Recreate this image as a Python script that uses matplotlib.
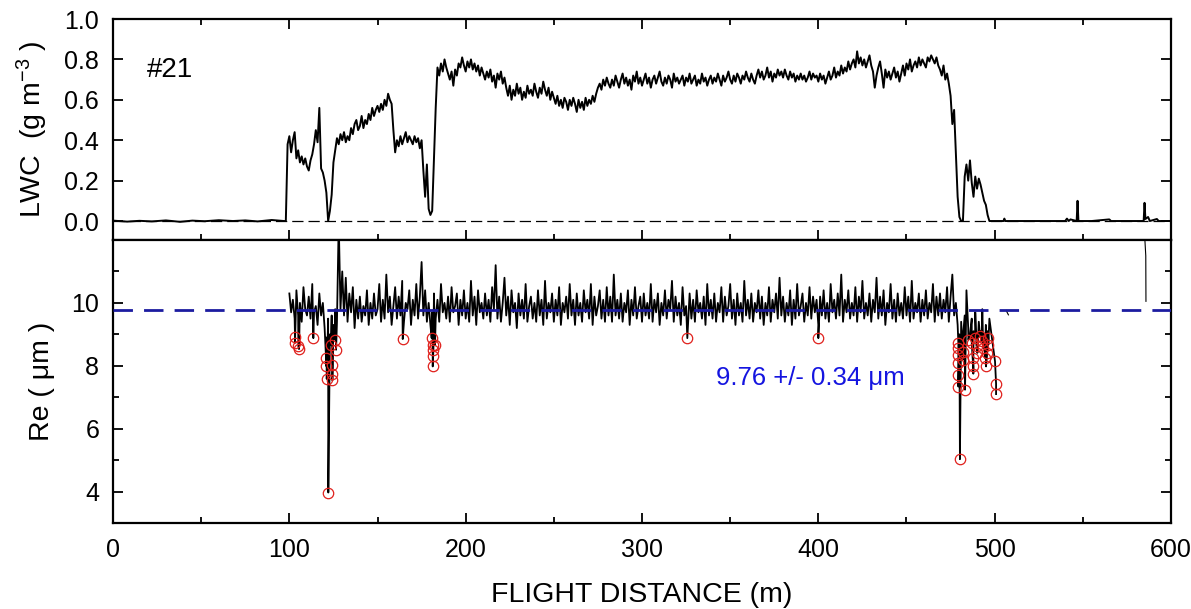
import numpy as np
import matplotlib
matplotlib.use("Agg")
import matplotlib.pyplot as plt
from matplotlib.ticker import MultipleLocator, FixedLocator, FormatStrFormatter

plt.rcParams["font.family"] = ["Liberation Sans", "DejaVu Sans"]
plt.rcParams["mathtext.default"] = "regular"

# ---- LWC (g m-3) ----
# clear air before the cloud
lwc_before_x = [0, 8, 15, 22, 30, 38, 45, 52, 60, 68, 75, 82, 90, 97]
lwc_before = [0.002, -0.003, 0.001, -0.002, 0.003, -0.004, 0.002,
              -0.001, 0.004, 0.0, 0.003, -0.002, 0.005, 0.0]

# in cloud, one reading per metre starting at 98 m
lwc_cloud_start = 98
lwc_cloud = [
    0.00, 0.38,
    0.42, 0.34, 0.40, 0.44, 0.31, 0.35, 0.29, 0.32, 0.28, 0.31,  # 100
    0.27, 0.25, 0.30, 0.33, 0.38, 0.45, 0.39, 0.56, 0.26, 0.24,  # 110
    0.20, 0.14, 0.00, 0.05, 0.13, 0.29, 0.35, 0.41, 0.38, 0.43,  # 120
    0.40, 0.44, 0.39, 0.42, 0.40, 0.46, 0.43, 0.48, 0.50, 0.45,  # 130
    0.47, 0.52, 0.46, 0.50, 0.48, 0.53, 0.50, 0.56, 0.52, 0.55,  # 140
    0.57, 0.54, 0.58, 0.55, 0.60, 0.57, 0.63, 0.60, 0.58, 0.45,  # 150
    0.34, 0.40, 0.37, 0.42, 0.38, 0.41, 0.44, 0.39, 0.42, 0.40,  # 160
    0.38, 0.42, 0.39, 0.41, 0.36, 0.40, 0.25, 0.12, 0.28, 0.06,  # 170
    0.03, 0.05, 0.30, 0.56, 0.76, 0.72, 0.78, 0.74, 0.80, 0.76,  # 180
    0.73, 0.70, 0.74, 0.67, 0.75, 0.72, 0.78, 0.76, 0.81, 0.77,  # 190
    0.74, 0.79, 0.76, 0.80, 0.75, 0.78, 0.74, 0.77, 0.72, 0.76,  # 200
    0.73, 0.70, 0.74, 0.71, 0.75, 0.69, 0.72, 0.66, 0.73, 0.70,  # 210
    0.74, 0.68, 0.71, 0.66, 0.62, 0.67, 0.60, 0.65, 0.62, 0.68,  # 220
    0.63, 0.66, 0.60, 0.64, 0.61, 0.67, 0.63, 0.65, 0.62, 0.68,  # 230
    0.64, 0.61, 0.66, 0.63, 0.69, 0.65, 0.62, 0.66, 0.60, 0.64,  # 240
    0.61, 0.58, 0.62, 0.57, 0.60, 0.56, 0.61, 0.59, 0.55, 0.60,  # 250
    0.57, 0.61, 0.58, 0.54, 0.60, 0.56, 0.59, 0.55, 0.61, 0.57,  # 260
    0.60, 0.58, 0.62, 0.59, 0.63, 0.66, 0.68, 0.65, 0.70, 0.67,  # 270
    0.71, 0.68, 0.66, 0.70, 0.67, 0.72, 0.69, 0.66, 0.70, 0.73,  # 280
    0.68, 0.71, 0.67, 0.70, 0.65, 0.72, 0.69, 0.74, 0.68, 0.71,  # 290
    0.67, 0.70, 0.73, 0.68, 0.71, 0.66, 0.70, 0.72, 0.68, 0.71,  # 300
    0.74, 0.69, 0.67, 0.71, 0.68, 0.72, 0.70, 0.66, 0.73, 0.69,  # 310
    0.71, 0.68, 0.70, 0.72, 0.67, 0.71, 0.69, 0.73, 0.68, 0.70,  # 320
    0.72, 0.67, 0.70, 0.68, 0.73, 0.69, 0.71, 0.67, 0.70, 0.72,  # 330
    0.68, 0.71, 0.69, 0.73, 0.70, 0.67, 0.72, 0.69, 0.71, 0.74,  # 340
    0.70, 0.68, 0.72, 0.69, 0.73, 0.71, 0.68, 0.72, 0.70, 0.74,  # 350
    0.71, 0.69, 0.73, 0.70, 0.68, 0.72, 0.75, 0.71, 0.74, 0.70,  # 360
    0.72, 0.76, 0.71, 0.74, 0.69, 0.73, 0.71, 0.75, 0.72, 0.74,  # 370
    0.71, 0.75, 0.72, 0.70, 0.74, 0.71, 0.73, 0.69, 0.72, 0.70,  # 380
    0.73, 0.70, 0.72, 0.69, 0.71, 0.74, 0.70, 0.73, 0.71, 0.72,  # 390
    0.69, 0.73, 0.70, 0.72, 0.68, 0.71, 0.74, 0.70, 0.72, 0.76,  # 400
    0.71, 0.74, 0.72, 0.77, 0.73, 0.76, 0.74, 0.79, 0.75, 0.78,  # 410
    0.80, 0.76, 0.84, 0.78, 0.81, 0.77, 0.80, 0.76, 0.79, 0.82,  # 420
    0.77, 0.74, 0.66, 0.72, 0.76, 0.79, 0.73, 0.66, 0.75, 0.71,  # 430
    0.74, 0.70, 0.73, 0.76, 0.71, 0.74, 0.69, 0.73, 0.77, 0.72,  # 440
    0.78, 0.75, 0.80, 0.74, 0.77, 0.79, 0.76, 0.81, 0.77, 0.80,  # 450
    0.78, 0.76, 0.81, 0.79, 0.82, 0.80, 0.78, 0.81, 0.77, 0.75,  # 460
    0.72, 0.77, 0.70, 0.73, 0.68, 0.62, 0.48, 0.55, 0.33, 0.12,  # 470
    0.02, 0.00, 0.00, 0.22, 0.28, 0.20, 0.30, 0.19, 0.12, 0.22,  # 480
    0.16, 0.21, 0.18, 0.14, 0.10, 0.08, 0.03, 0.00, 0.00, 0.00,  # 490
    0.00,                                                        # 500
]

# clear air after the cloud, with a few small blips
lwc_after_x = [503, 505, 505.5, 506, 508, 540, 541, 542, 543, 546.5, 547,
               547.5, 555, 565, 566, 575, 584.5, 585, 585.5, 587, 588, 592,
               593, 600]
lwc_after = [0.0, 0.0, 0.012, 0.0, 0.0, 0.0, 0.012, 0.0, 0.008, 0.0, 0.10,
             0.0, 0.0, 0.008, 0.0, 0.0, 0.0, 0.09, 0.01, 0.02, 0.0, 0.01,
             0.0, 0.0]

# ---- Re (um) ----
re_cloud_start = 100
re_cloud = [
    10.3, 9.7, 10.1, 9.5, 10.4, 9.6, 10.0, 9.4, 10.5, 9.8,   # 100
    9.6, 10.2, 9.5, 10.6, 9.7, 9.9, 9.3, 10.3, 9.6, 10.0,    # 110
    9.2, 8.9, 9.5, 9.0, 9.6, 9.3, 9.8, 9.4, 12.6, 9.8,       # 120
    11.0, 9.6, 10.8, 9.4, 10.3, 9.7, 10.5, 9.2, 10.1, 9.5,   # 130
    10.2, 9.4, 9.9, 9.6, 10.4, 9.3, 10.0, 9.5, 10.3, 9.6,    # 140
    9.8, 10.6, 9.4, 10.1, 9.5, 10.9, 9.7, 10.2, 9.3, 9.9,    # 150
    10.5, 9.5, 10.2, 9.6, 10.7, 9.4, 10.0, 9.8, 10.4, 9.3,   # 160
    10.1, 9.6, 10.6, 9.5, 10.2, 11.3, 9.6, 10.4, 9.4, 10.0,  # 170
    9.3, 9.7, 10.3, 9.5, 10.1, 9.4, 10.6, 9.7, 10.0, 9.5,    # 180
    10.2, 9.4, 10.5, 9.7, 9.9, 10.3, 9.3, 10.1, 9.6, 10.4,   # 190
    9.5, 10.0, 9.4, 10.7, 9.6, 10.2, 9.3, 10.4, 9.7, 10.0,   # 200
    9.5, 10.3, 9.6, 10.1, 9.4, 10.5, 9.8, 11.2, 9.5, 10.2,   # 210
    9.4, 10.0, 10.8, 9.6, 10.2, 9.3, 10.4, 9.7, 10.0, 9.2,   # 220
    10.3, 9.6, 10.1, 9.5, 10.6, 9.4, 9.9, 10.2, 9.5, 10.0,   # 230
    9.4, 10.4, 9.6, 10.1, 9.3, 10.7, 9.5, 10.0, 9.7, 10.3,   # 240
    9.4, 10.1, 9.6, 10.5, 9.3, 10.0, 9.7, 10.2, 9.5, 10.6,   # 250
    9.6, 10.1, 9.3, 10.3, 9.6, 10.0, 9.4, 10.4, 9.7, 10.1,   # 260
    9.5, 10.6, 9.3, 10.2, 9.6, 9.9, 10.4, 9.5, 10.1, 9.4,    # 270
    10.5, 9.6, 10.2, 9.4, 10.9, 9.6, 10.1, 9.5, 10.3, 9.4,   # 280
    10.0, 9.7, 10.4, 9.3, 10.1, 9.6, 10.5, 9.5, 9.9, 10.2,   # 290
    9.4, 10.3, 9.6, 10.0, 9.5, 10.6, 9.4, 10.1, 9.7, 10.3,   # 300
    9.3, 10.0, 9.6, 10.4, 9.5, 10.1, 9.8, 10.7, 9.4, 10.2,   # 310
    9.6, 10.0, 9.3, 10.5, 9.6, 9.9, 9.2, 10.3, 9.5, 10.1,    # 320
    9.4, 10.4, 9.7, 10.0, 9.5, 10.2, 9.3, 10.6, 9.6, 10.1,   # 330
    9.5, 10.3, 9.4, 10.0, 9.7, 10.5, 9.4, 10.2, 9.6, 9.9,    # 340
    10.6, 9.5, 10.1, 9.3, 10.3, 9.6, 10.0, 9.4, 10.7, 9.6,   # 350
    10.1, 9.5, 10.3, 9.4, 10.0, 9.7, 10.4, 9.5, 10.2, 9.3,   # 360
    10.0, 9.6, 10.5, 9.4, 10.1, 9.7, 10.3, 9.5, 10.8, 9.6,   # 370
    10.2, 9.4, 10.0, 9.6, 10.4, 9.3, 10.1, 9.5, 10.6, 9.6,   # 380
    9.9, 10.3, 9.4, 10.0, 9.6, 10.5, 9.5, 10.2, 9.7, 10.1,   # 390
    9.3, 10.2, 9.6, 10.4, 9.5, 10.0, 9.4, 10.6, 9.7, 10.1,   # 400
    9.5, 10.3, 9.6, 10.9, 9.4, 10.1, 9.7, 10.4, 9.5, 10.0,   # 410
    9.6, 10.5, 9.4, 10.2, 9.7, 10.7, 9.5, 10.0, 9.6, 10.3,   # 420
    9.4, 10.1, 9.7, 10.8, 9.5, 10.2, 9.6, 10.4, 9.3, 10.0,   # 430
    9.7, 10.6, 9.5, 10.1, 9.4, 10.3, 9.6, 10.0, 9.5, 10.5,   # 440
    9.6, 10.2, 9.4, 10.7, 9.5, 10.0, 9.7, 10.3, 9.4, 10.1,   # 450
    9.6, 10.4, 9.5, 10.0, 9.7, 10.6, 9.4, 10.2, 9.6, 10.3,   # 460
    9.5, 10.1, 9.7, 10.5, 9.4, 10.2, 10.9, 9.6, 10.0, 9.3,   # 470
    9.0, 9.4, 8.9, 9.6, 10.4, 9.2, 9.0, 9.5, 9.1, 9.7,       # 480
    9.0, 9.4, 9.1, 9.8, 9.0, 9.3, 9.1, 9.5,                  # 490
]

# low readings, drawn as red circles
re_low_x = [103.2, 103.2, 105.1, 105.5, 113.6, 120.8, 120.8, 121.2, 122.1,
            123.4, 124.4, 124.4, 124.4, 125.9, 126.5, 164.3, 180.7, 181.3,
            181.7, 181.3, 181.3, 182.6, 325.7, 400.0, 479.4, 479.4, 479.4,
            479.4, 479.4, 479.4, 480.3, 481.9, 481.9, 483.2, 485.1, 487.0,
            487.5, 487.9, 487.9, 488.9, 489.8, 490.2, 491.7, 492.6, 493.5,
            494.5, 495.1, 496.4, 496.4, 495.8, 500.2, 500.8, 500.8]
re_low = [8.92, 8.73, 8.62, 8.53, 8.88, 8.25, 8.00, 7.58, 3.97,
          8.67, 8.03, 7.75, 7.54, 8.83, 8.51, 8.85, 8.88, 8.67,
          8.51, 8.30, 7.98, 8.67, 8.88, 8.88, 8.73, 8.57, 8.35,
          8.09, 7.72, 7.34, 5.03, 8.43, 8.19, 7.24, 8.83, 8.73,
          8.25, 7.98, 7.75, 8.88, 8.62, 8.41, 8.94, 8.78, 8.57,
          8.25, 7.98, 8.88, 8.67, 8.41, 8.14, 7.43, 7.10]

# stray readings outside the cloud
re_stray1_x, re_stray1 = [506.5, 507.8], [9.76, 9.62]
re_stray2_x, re_stray2 = [584.9, 585.7, 585.8], [12.3, 11.5, 10.05]

re_mean, re_std = 9.76, 0.34
flight_id = "#21"

# ---- build series ----
lwc_x = np.concatenate([lwc_before_x,
                        lwc_cloud_start + np.arange(len(lwc_cloud)),
                        lwc_after_x])
lwc_y = np.concatenate([lwc_before, lwc_cloud, lwc_after])

re_x = np.concatenate([re_cloud_start + np.arange(len(re_cloud)),
                       re_low_x])
re_y = np.concatenate([re_cloud, re_low])
order = np.argsort(re_x, kind="stable")
re_x, re_y = re_x[order], re_y[order]

fig = plt.figure(figsize=(11.91, 6.09), dpi=100)
ax1 = fig.add_axes([0.0949, 0.6059, 0.8883, 0.3629])
ax2 = fig.add_axes([0.0949, 0.1412, 0.8883, 0.4647])

tick_fs = 18
label_fs = 20.5

# top panel
ax1.axhline(0, color="black", lw=0.9, ls=(0, (9, 4)), zorder=1)
ax1.plot(lwc_x, lwc_y, color="black", lw=1.4, zorder=2)
ax1.set_xlim(0, 600)
ax1.set_ylim(-0.094, 1.0)
ax1.yaxis.set_major_locator(FixedLocator([0.0, 0.2, 0.4, 0.6, 0.8, 1.0]))
ax1.yaxis.set_major_formatter(FormatStrFormatter("%.1f"))
ax1.set_xticklabels([])
ax1.text(19, 0.75, flight_id, fontsize=20, va="center", ha="left")
ax1.set_ylabel("LWC  (g m$^{-3}$ )", fontsize=label_fs)
ax1.yaxis.set_label_coords(-0.0595, 0.5)

# bottom panel
ax2.plot(re_x, re_y, color="black", lw=1.3, zorder=2)
ax2.plot(re_stray1_x, re_stray1, color="black", lw=0.8, zorder=2)
ax2.plot(re_stray2_x, re_stray2, color="black", lw=0.8, zorder=2)
ax2.axhline(re_mean, color="#1c1ca0", lw=2.0, ls=(0, (7, 4)), zorder=3)
ax2.plot(re_low_x, re_low, "o", ms=7.5, mfc="none", mec="#e0201c", mew=0.9,
         zorder=4)
ax2.text(342, 7.62, f"{re_mean:.2f} +/- {re_std:.2f} μm", color="#1515e0",
         fontsize=18.5, va="center", ha="left")
ax2.set_xlim(0, 600)
ax2.set_ylim(3, 12)
ax2.yaxis.set_major_locator(FixedLocator([4, 6, 8, 10]))
ax2.yaxis.set_minor_locator(FixedLocator([5, 7, 9, 11]))
ax2.set_ylabel("Re ( μm )", fontsize=label_fs)
ax2.yaxis.set_label_coords(-0.0548, 0.5)
ax2.set_xlabel("FLIGHT DISTANCE (m)", fontsize=label_fs, va="center")
ax2.xaxis.set_label_coords(0.5, -0.255)

for ax in (ax1, ax2):
    ax.xaxis.set_major_locator(MultipleLocator(100))
    ax.xaxis.set_minor_locator(MultipleLocator(50))
    for s in ax.spines.values():
        s.set_linewidth(1.6)
    ax.tick_params(which="both", direction="in", width=1.3, right=True,
                   labelsize=tick_fs)
    ax.tick_params(which="major", length=7)
    ax.tick_params(which="minor", length=4.5)
    ax.tick_params(axis="y", pad=10)
    ax.tick_params(axis="x", pad=11)
ax1.tick_params(which="both", top=True)
ax2.tick_params(which="both", top=False)

fig.savefig("out.png", dpi=100)
